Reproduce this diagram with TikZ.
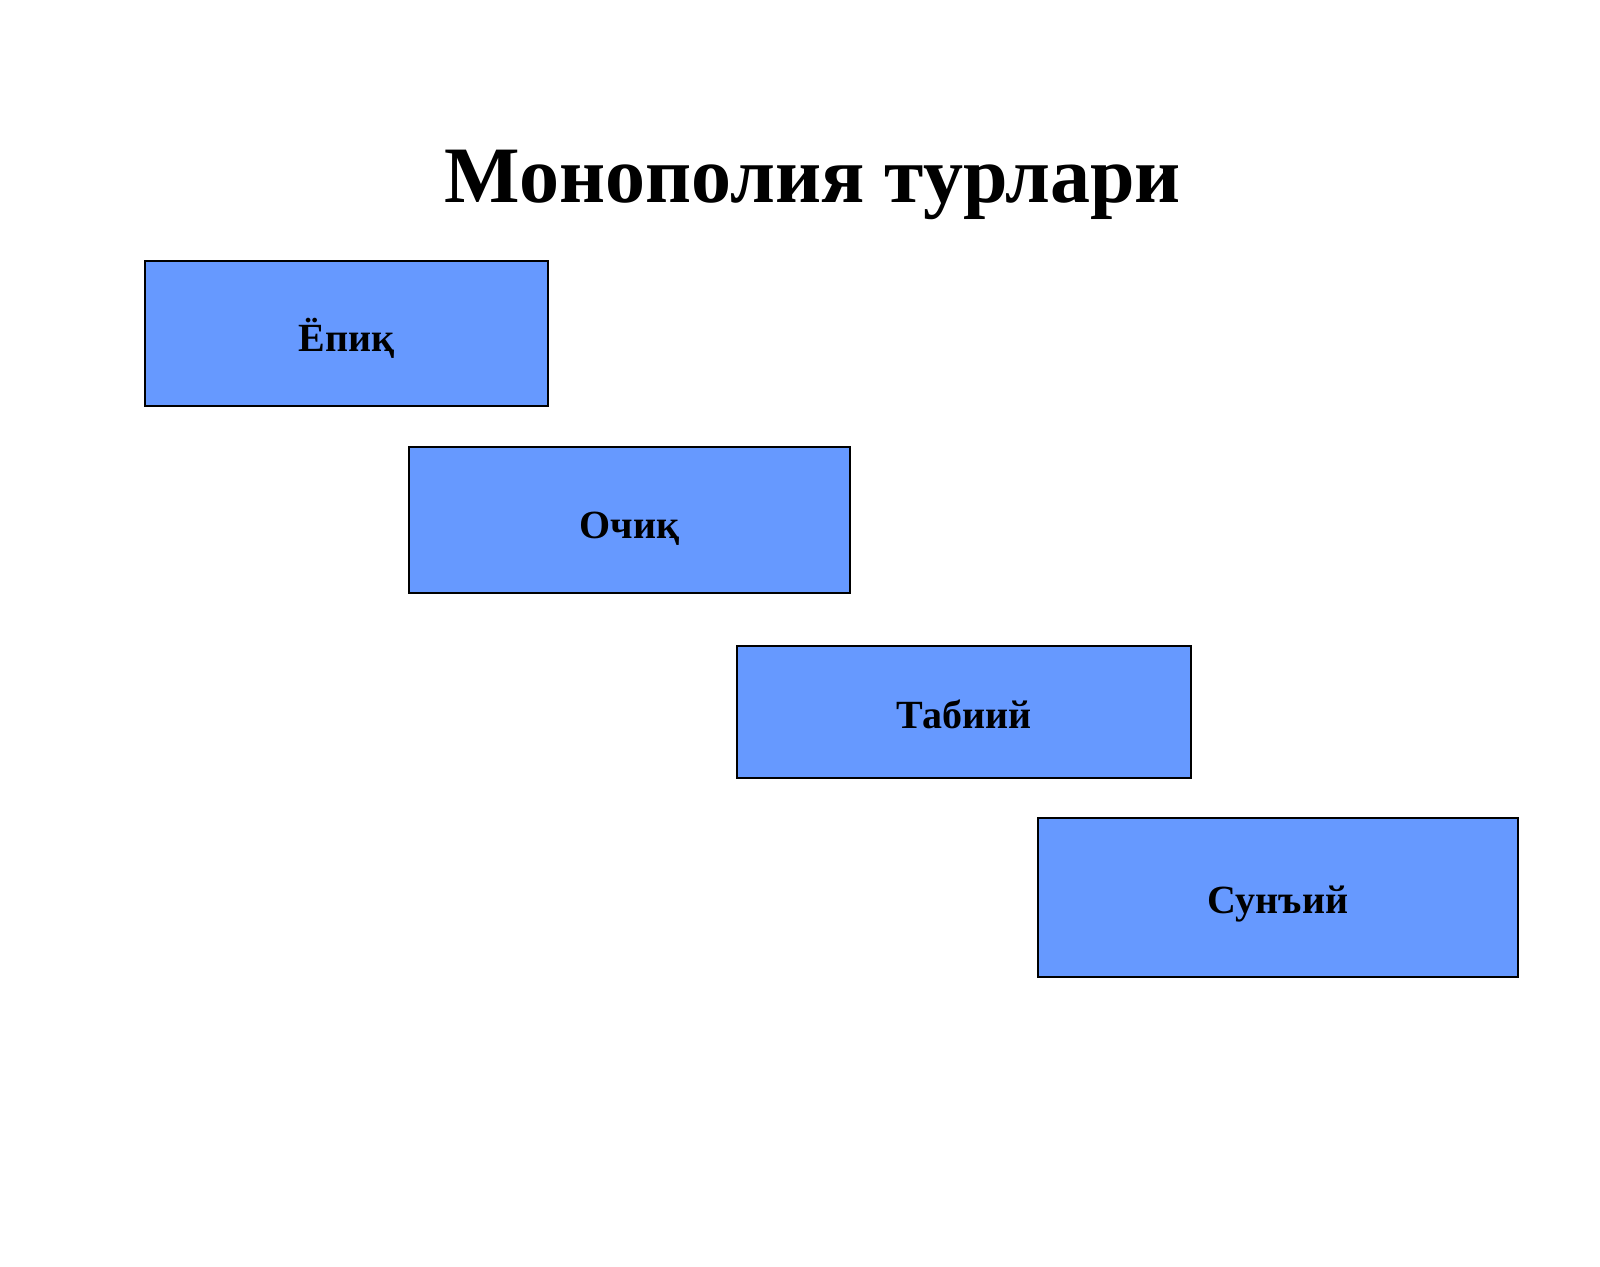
\documentclass[tikz,border=0pt]{standalone}
\usepackage{fontspec}
\setmainfont{Liberation Serif}
\definecolor{boxblue}{HTML}{6699FF}
\begin{document}
\begin{tikzpicture}[x=1pt,y=-1pt,
  typebox/.style={draw=black,line width=2pt,fill=boxblue},
  boxlabel/.style={font=\fontsize{40}{46}\selectfont\bfseries,text=black}]
\useasboundingbox[fill=white] (0,0) rectangle (1600,1266);
\node[font=\fontsize{80}{92}\selectfont\bfseries,anchor=base] (title) at (813,202) {Монополия турлари};
\draw[typebox] (145,261) rectangle (548,406);
\node[boxlabel,anchor=base] (b1) at (346.5,351) {Ёпиқ};
\draw[typebox] (409,447) rectangle (850,593);
\node[boxlabel,anchor=base] (b2) at (629.5,538) {Очиқ};
\draw[typebox] (737,646) rectangle (1191,778);
\node[boxlabel,anchor=base] (b3) at (964,728) {Табиий};
\draw[typebox] (1038,818) rectangle (1518,977);
\node[boxlabel,anchor=base] (b4) at (1278,913) {Сунъий};
\end{tikzpicture}
\end{document}
